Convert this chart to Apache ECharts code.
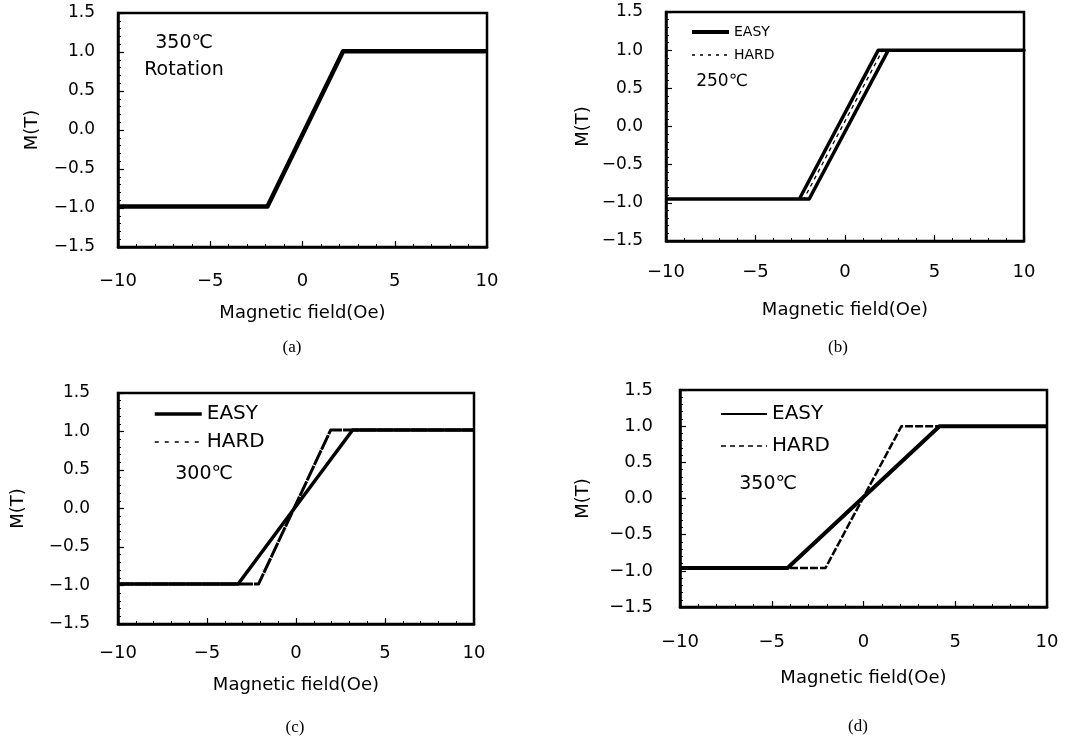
<!DOCTYPE html>
<html>
<head>
<meta charset="utf-8">
<script src="https://cdn.jsdelivr.net/npm/echarts@6/dist/echarts.min.js"></script>
<style>
  html, body { margin: 0; padding: 0; background: #fff; }
  #main { width: 1077px; height: 740px; }
</style>
</head>
<body>
<div id="main"></div>
<script>
// (a) 350C rotation
const rotField = [-10, -1.9, 2.2, 10];
const rotM = [-0.98, -0.98, 1.01, 1.01];
// (b) 250C : easy is a narrow loop (up and back), hard dashed
const easy250Field = [-10, -2.0, 2.42, 10, 1.86, -2.55, -10];
const easy250M = [-0.95, -0.95, 1.0, 1.0, 1.0, -0.95, -0.95];
const hard250Field = [-10, -2.3, 2.1, 10];
const hard250M = [-0.95, -0.95, 1.0, 1.0];
// (c) 300C
const easy300Field = [-10, -3.25, 3.18, 10];
const easy300M = [-0.98, -0.98, 1.02, 1.02];
const hard300Field = [-10, -2.1, 1.95, 10];
const hard300M = [-0.98, -0.98, 1.02, 1.02];
// (d) 350C
const easy350Field = [-10, -4.14, 4.14, 10];
const easy350M = [-0.96, -0.96, 1.0, 1.0];
const hard350Field = [-10, -2.07, 2.07, 10];
const hard350M = [-0.96, -0.96, 1.0, 1.0];

const xTicks = [-10, -5, 0, 5, 10];
const yTicks = [-1.5, -1.0, -0.5, 0.0, 0.5, 1.0, 1.5];

const ink = "#000";
const font = "DejaVu Sans";

function zip(xs, ys) {
  return xs.map((x, i) => [x, ys[i]]);
}
function minus(s) {
  return s.replace("-", "\u2212");
}

// plot boxes, in pixels
const boxes = [
  { left: 118, top: 13, width: 369, height: 234, yFont: 17, xFont: 18, yGap: 23, xGap: 25, yName: 77, xName: 57 },
  { left: 666, top: 12, width: 358, height: 229, yFont: 17, xFont: 18, yGap: 23, xGap: 22, yName: 74, xName: 60 },
  { left: 118, top: 393, width: 356, height: 231, yFont: 17, xFont: 18, yGap: 28, xGap: 20, yName: 91, xName: 52 },
  { left: 680, top: 390, width: 367, height: 217, yFont: 18, xFont: 18, yGap: 27, xGap: 26, yName: 88, xName: 62 },
];

const grid = boxes.map(b => ({
  left: b.left, top: b.top, width: b.width, height: b.height,
  show: true, borderColor: ink, borderWidth: 2.5, containLabel: false,
}));

const xAxis = boxes.map((b, i) => ({
  type: "value", gridIndex: i, min: xTicks[0], max: xTicks[xTicks.length - 1], interval: 5,
  name: "Magnetic field(Oe)", nameLocation: "middle", nameGap: b.xName,
  nameTextStyle: { fontFamily: font, fontSize: 18, color: ink },
  axisLine: { show: true, onZero: false, lineStyle: { color: ink, width: 2.5 } },
  axisTick: { inside: true, length: 6, lineStyle: { color: ink, width: 1.2 } },
  minorTick: { show: true, splitNumber: 5, length: 3, lineStyle: { color: ink, width: 1 } },
  splitLine: { show: false },
  axisLabel: { fontFamily: font, fontSize: b.xFont, color: ink, margin: b.xGap,
    formatter: v => minus(String(v)) },
}));

const yAxis = boxes.map((b, i) => ({
  type: "value", gridIndex: i, min: yTicks[0], max: yTicks[yTicks.length - 1], interval: 0.5,
  name: "M(T)", nameLocation: "middle", nameGap: b.yName, nameRotate: 90,
  nameTextStyle: { fontFamily: font, fontSize: 18, color: ink },
  axisLine: { show: true, onZero: false, lineStyle: { color: ink, width: 2.5 } },
  axisTick: { inside: true, length: 6, lineStyle: { color: ink, width: 1.2 } },
  minorTick: { show: true, splitNumber: 5, length: 3, lineStyle: { color: ink, width: 1 } },
  splitLine: { show: false },
  axisLabel: { fontFamily: font, fontSize: b.yFont, color: ink, margin: b.yGap,
    formatter: v => minus(v.toFixed(1)) },
}));

function line(name, idx, data, width, type) {
  return {
    name: name, type: "line", xAxisIndex: idx, yAxisIndex: idx,
    data: data, symbol: "none", silent: true,
    itemStyle: { color: ink },
    lineStyle: { color: ink, width: width, type: type || "solid", join: "round" },
  };
}

const series = [
  line("Rotation", 0, zip(rotField, rotM), 4.5),
  line("EASY", 1, zip(easy250Field, easy250M), 3.5),
  line("HARD", 1, zip(hard250Field, hard250M), 1.3, [4, 4]),
  line("EASY", 2, zip(easy300Field, easy300M), 3.5),
  line("HARD", 2, zip(hard300Field, hard300M), 3, [16, 1]),
  line("EASY", 3, zip(easy350Field, easy350M), 4),
  line("HARD", 3, zip(hard350Field, hard350M), 2.5, [8, 2]),
];

// legend keys: plain line samples, no symbol
function legend(idx, left, top, fontSize, itemWidth, itemHeight, gap, easyW, hardW, hardDash) {
  const hide = { color: "rgba(0,0,0,0)", borderWidth: 0, opacity: 0 };
  return {
    seriesIndex: idx, orient: "vertical", left: left, top: top, padding: 0,
    itemWidth: itemWidth, itemHeight: itemHeight, itemGap: gap, selectedMode: false,
    textStyle: { fontFamily: font, fontSize: fontSize, color: ink },
    data: [
      { name: "EASY", itemStyle: hide, lineStyle: { width: easyW, color: ink, type: "solid", opacity: 1 } },
      { name: "HARD", itemStyle: hide, lineStyle: { width: hardW, color: ink, type: hardDash, opacity: 1 } },
    ],
  };
}

const option = {
  animation: false,
  backgroundColor: "#fff",
  grid: grid,
  xAxis: xAxis,
  yAxis: yAxis,
  legend: [
    legend([1, 2], 690, 25, 14, 37, 14, 9, 4, 1.5, [3, 5]),
    legend([3, 4], 153, 404, 20, 47, 20, 8, 3.5, 1.5, [4, 6]),
    legend([5, 6], 720, 404, 20, 46, 20, 12, 2, 1.5, [5, 4]),
  ],
  series: series,
  graphic: [
    // panel notes
    { type: "text", x: 184, y: 43, style: { text: "350\u2103", font: "19px " + font, fill: ink, align: "center", verticalAlign: "middle" } },
    { type: "text", x: 184, y: 70, style: { text: "Rotation", font: "19px " + font, fill: ink, align: "center", verticalAlign: "middle" } },
    { type: "text", x: 722, y: 82, style: { text: "250\u2103", font: "17px " + font, fill: ink, align: "center", verticalAlign: "middle" } },
    { type: "text", x: 204, y: 474, style: { text: "300\u2103", font: "19px " + font, fill: ink, align: "center", verticalAlign: "middle" } },
    { type: "text", x: 768, y: 484, style: { text: "350\u2103", font: "19px " + font, fill: ink, align: "center", verticalAlign: "middle" } },
    // captions
    { type: "text", x: 292, y: 348, style: { text: "(a)", font: "17px 'Liberation Serif'", fill: ink, align: "center", verticalAlign: "middle" } },
    { type: "text", x: 838, y: 348, style: { text: "(b)", font: "17px 'Liberation Serif'", fill: ink, align: "center", verticalAlign: "middle" } },
    { type: "text", x: 295, y: 728, style: { text: "(c)", font: "17px 'Liberation Serif'", fill: ink, align: "center", verticalAlign: "middle" } },
    { type: "text", x: 858, y: 727, style: { text: "(d)", font: "17px 'Liberation Serif'", fill: ink, align: "center", verticalAlign: "middle" } },
  ],
};

const chart = echarts.init(document.getElementById("main"), null, { renderer: "canvas" });
chart.setOption(option);
</script>
</body>
</html>
